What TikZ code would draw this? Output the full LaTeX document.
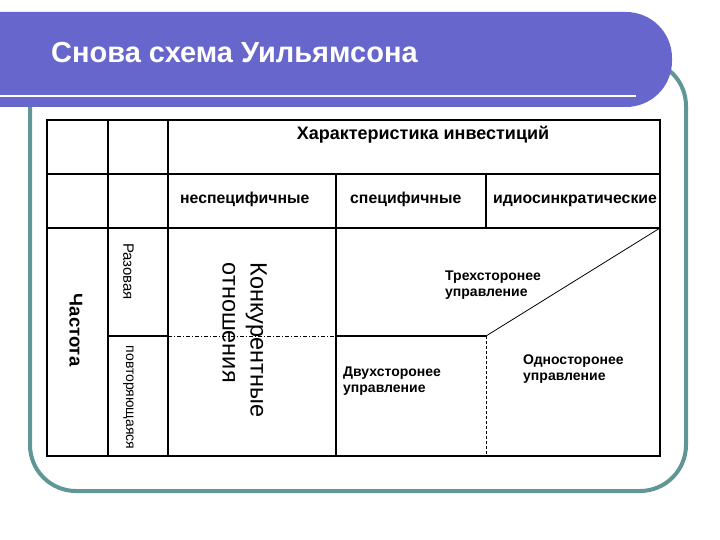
\documentclass[tikz,border=0pt]{standalone}
\usepackage{fontspec}
\setmainfont{Liberation Sans}
\definecolor{banner}{RGB}{102,102,204}
\definecolor{teal}{RGB}{96,150,150}
\tikzset{
  grid/.style={line width=1.1pt, black},
  lbl/.style={inner sep=0pt, text=black},
  hdr/.style={lbl, font=\bfseries\fontsize{15.8}{18}\selectfont},
  gov/.style={lbl, align=left, font=\bfseries\fontsize{14}{16}\selectfont},
  vert/.style={lbl, rotate=-90},
}
\begin{document}
\begin{tikzpicture}[x=1pt,y=-1pt]
\useasboundingbox (0,0) rectangle (720,540);
\fill[white] (0,0) rectangle (720,540);
% teal frame
\draw[teal, line width=4pt, rounded corners=46pt] (30,60) rectangle (686,491);
% banner
\fill[banner, rounded corners=46pt] (-60,12) rectangle (672,107);
\draw[white, line width=2pt] (0,96) -- (636,96);
\node[lbl, anchor=west, text=white, font=\bfseries\fontsize{29}{32}\selectfont] (title) at (51,53) {Снова схема Уильямсона};
% table
\draw[grid] (47,120) rectangle (660,456);
\draw[grid] (47,174) -- (660,174);
\draw[grid] (47,228) -- (660,228);
\draw[grid] (108,120) -- (108,456);
\draw[grid] (168,120) -- (168,456);
\draw[grid] (336,174) -- (336,456);
\draw[grid] (486,174) -- (486,228);
\draw[grid] (108,336) -- (168,336);
\draw[grid, line width=0.8pt, dash pattern=on 4pt off 2pt on 1pt off 2pt] (168,336) -- (336,336);
\draw[grid] (336,336) -- (486,336);
\draw[line width=0.8pt] (486,336) -- (660,228);
\draw[line width=0.8pt, dash pattern=on 3pt off 2pt] (486,336) -- (486,456);
% texts
\node[lbl, font=\bfseries\fontsize{18}{21}\selectfont] (char) at (423,135) {Характеристика инвестиций};
\node[hdr, anchor=base west] (ns) at (180,204) {неспецифичные};
\node[hdr, anchor=base west] (sp) at (350,204) {специфичные};
\node[hdr, anchor=base west] (id) at (493,204) {идиосинкратические};
\node[vert, font=\bfseries\fontsize{18.5}{22}\selectfont] (freq) at (76,330) {Частота};
\node[vert, font=\fontsize{15}{18}\selectfont] (once) at (128.5,271.5) {Разовая};
\node[vert, font=\fontsize{14}{17}\selectfont] (rep) at (128.5,397.5) {повторяющаяся};
\node[vert, align=left, font=\fontsize{23.5}{28}\selectfont] (comp) at (244.5,340) {Конкурентные\\отношения};
\node[gov, anchor=west] (tri) at (445,285) {Трехсторонее\\управление};
\node[gov, anchor=west] (bi) at (343,381) {Двухсторонее\\управление};
\node[gov, anchor=west] (uni) at (523,369) {Односторонее\\управление};
\end{tikzpicture}
\end{document}
